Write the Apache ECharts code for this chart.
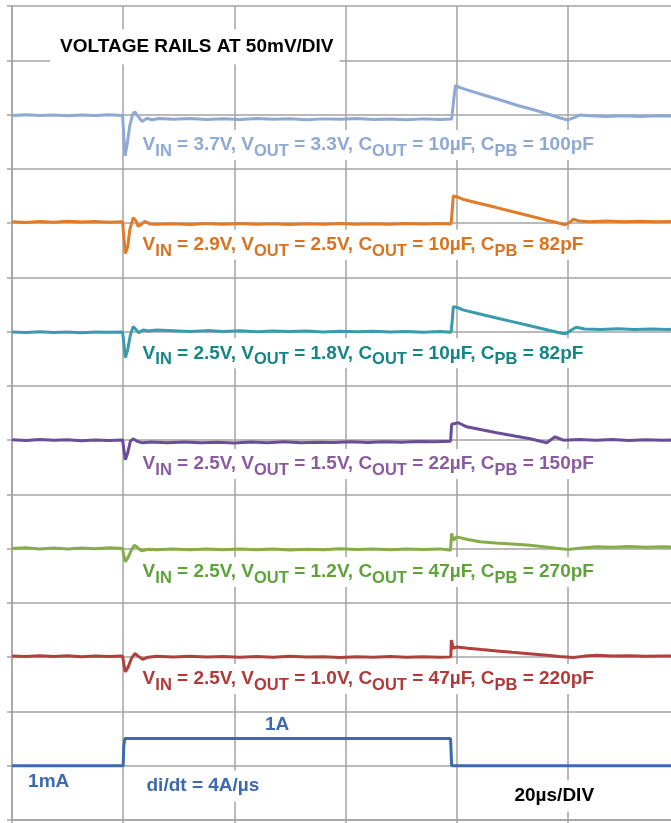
<!DOCTYPE html>
<html><head><meta charset="utf-8">
<script src="https://cdn.jsdelivr.net/npm/echarts@6/dist/echarts.min.js"></script>
<style>html,body{margin:0;padding:0;background:#fff}#c{width:671px;height:823px}</style>
</head><body><div id="c"></div>
<script>
// ---- scales ----
const mvPerDiv = 50;      // voltage rails at 50mV/DIV
const ampPerDiv = 2;      // load current: 1A = half a division
const usPerDiv = 20;      // 20µs/DIV
const timeMax = 120;      // µs across the visible grid
const divCount = 15;

// ---- rails: [time µs, deviation mV] ----
const railLevels = [13, 11, 9, 7, 5, 3];
const vinLabels  = ['3.7V', '2.9V', '2.5V', '2.5V', '2.5V', '2.5V'];
const voutLabels = ['3.3V', '2.5V', '1.8V', '1.5V', '1.2V', '1.0V'];
const coutLabels = ['10µF', '10µF', '10µF', '22µF', '47µF', '47µF'];
const cpbLabels  = ['100pF', '82pF', '82pF', '150pF', '270pF', '220pF'];
const traceColors = ['#8ea9d4', '#e07b2a', '#3a9aae', '#6a4d96', '#86ad47', '#b0403d'];
const labelColors = ['#8ea9d4', '#d9731f', '#168585', '#8b5b9f', '#5ea23a', '#b03a3a'];
const currentColor = '#3d6aae';

const rail33 = [[0,-0.8],[2.5,-0.2],[5,-1.0],[7.5,-0.4],[10,-1.2],[12.5,-0.5],[15,-0.9],[17.5,-0.3],[19.9,-0.9],
  [20.1,-20],[20.35,-38],[20.7,-28],[21.2,-10],[21.7,0],[22.1,2.5],[22.6,-1],[23.4,-6.5],[24.3,-3.5],[25.2,-4.8],[26.5,-3.6],
  [29,-4.4],[32,-3.7],[35,-4.6],[38,-3.9],[41,-4.5],[44,-3.6],[47,-4.3],[50,-3.8],[53,-4.7],[56,-4.0],[59,-4.4],[62,-3.7],[65,-4.6],[68,-4.1],[71,-4.8],[74,-4.0],[77,-4.6],[79.1,-4.2],
  [79.5,15],[79.8,27],[80.5,25],[82,22.5],[85,17.8],[88,13.2],[91,8.3],[94,4.2],[96.8,-0.2],[98.5,-3],[100,-5],[101,-3],[102.2,-0.5],[104,-1.2],[107,-1.8],[110,-1.1],[113,-1.7],[116,-1.2],[120,-1.5]];

const rail25 = [[0,1.2],[2.5,0.6],[5,1.5],[7.5,0.8],[10,1.6],[12.5,0.9],[15,1.4],[17.5,0.7],[19.9,1.2],
  [20.1,-12],[20.4,-28],[20.8,-22],[21.2,-6],[21.8,5],[22.3,2],[22.7,-3],[23.3,-1],[23.9,1.5],[24.8,-0.8],[26,-1.2],
  [29,-0.6],[32,-1.3],[35,-0.5],[38,-1.1],[41,-0.4],[44,-1.2],[47,-0.7],[50,-1.4],[53,-0.6],[56,-1.0],[59,-0.3],[62,-1.1],[65,-0.6],[68,-1.2],[71,-0.5],[74,-0.9],[77,-0.4],[79.0,-0.8],
  [79.2,12],[79.4,25],[80.2,24],[81.1,22],[84,18.3],[87,14.5],[90,10.6],[93.2,6.5],[96,2.9],[98,0.5],[99.5,-1.5],[100.3,0.5],[101,3.7],[102,2],[104,1.2],[107,1.8],[110,1.1],[113,1.7],[116,1.2],[120,1.5]];

const rail18 = [[0,-0.3],[2.5,-0.9],[5,-0.2],[7.5,-0.8],[10,-0.4],[12.5,-1.0],[15,-0.3],[17.5,-0.7],[19.9,-0.4],
  [20.1,-10],[20.4,-24],[20.8,-17],[21.3,-3],[21.8,4.6],[22.3,2],[22.8,-1],[23.6,1.5],[24.5,0.5],[26,1.5],
  [29,0.8],[32,0.1],[35,0.9],[38,0.2],[41,0.7],[44,-0.1],[47,0.6],[50,0],[53,0.5],[56,-0.3],[59,0.4],[62,-0.2],[65,0.3],[68,-0.4],[71,0.2],[74,-0.5],[77,0],[79.0,-0.5],
  [79.2,10],[79.4,23],[80.2,22],[81.1,20],[84,16.4],[87,12.8],[90,9.2],[93,5.6],[96,2],[98.9,-1.5],[99.7,-2],[100.5,1],[101.5,4],[103,2.4],[106,2.0],[109,2.6],[112,1.9],[115,2.5],[118,2.0],[120,2.2]];

const rail15 = [[0,0.3],[2.5,-0.4],[5,0.5],[7.5,-0.2],[10,0.4],[12.5,-0.5],[15,0.2],[17.5,-0.3],[19.9,0.2],
  [20.1,-8],[20.4,-18],[20.8,-12],[21.3,-1],[21.8,1.2],[22.5,-1],[23.5,-2.5],[25,-1.8],
  [28,-2.4],[31,-1.7],[34,-2.5],[37,-1.9],[40,-2.6],[43,-1.8],[46,-2.3],[49,-1.6],[52,-2.4],[55,-1.9],[58,-2.2],[61,-1.5],[64,-2.1],[67,-1.4],[70,-1.9],[73,-1.2],[76,-1.6],[78.9,-1.0],
  [79.1,14.6],[80.3,16],[81.8,12.3],[84.5,9.5],[87.2,6.8],[90.2,4],[93.2,1.3],[96.2,-2.4],[97.7,3.1],[99.2,0],[102,0.6],[105,-0.2],[108,0.5],[111,-0.3],[114,0.4],[117,-0.2],[120,0.2]];

const rail12 = [[0,0.2],[2.5,0.8],[5,-0.3],[7.5,0.6],[10,-0.2],[12.5,0.7],[15,0],[17.5,0.9],[19.9,0.1],
  [20.1,-6],[20.4,-12],[20.9,-8],[21.5,-1],[22,3.2],[22.6,1],[23.3,-2],[24.5,-0.5],[26,-1],
  [29,-0.3],[32,-1.1],[35,-0.4],[38,-1.0],[41,-0.2],[44,-0.9],[47,-0.3],[50,-1.2],[53,-0.5],[56,-0.9],[59,-0.1],[62,-0.8],[65,-0.3],[68,-1.0],[71,-0.4],[74,-0.8],[77,-0.2],[78.9,-1.4],
  [79.1,14],[79.4,7.8],[80.0,10.9],[82,8.5],[84.2,6.3],[87,5.2],[90,4.3],[93.2,3.2],[96,1.6],[98,0.3],[100.1,-0.7],[102.5,0.6],[105.2,1.7],[108,1.2],[111,1.9],[114,1.3],[117,1.8],[120,1.5]];

const rail10 = [[0,1.2],[2.5,0.6],[5,1.4],[7.5,0.7],[10,1.3],[12.5,0.5],[15,1.1],[17.5,0.6],[19.9,1.0],
  [20.1,-6],[20.4,-13.5],[20.9,-9],[21.5,-1],[22.1,3.4],[22.7,1],[23.5,-2],[24.5,0],[26,0.8],
  [29,0.2],[32,0.9],[35,0.1],[38,0.7],[41,-0.1],[44,0.6],[47,0],[50,0.8],[53,0.1],[56,0.5],[59,-0.2],[62,0.4],[65,-0.1],[68,0.6],[71,0],[74,0.5],[77,-0.1],[78.95,0.3],
  [79.04,15.7],[79.4,8],[80.0,9.5],[82,8.3],[84.5,7],[87.2,5.8],[90,4.5],[93,3.2],[96.2,1.8],[98.5,0.7],[101,-0.3],[103,1],[105.2,1.8],[108,1.1],[111,1.4],[114,0.8],[117,1.2],[120,0.9]];

const railData = [rail33, rail25, rail18, rail15, rail12, rail10];

// ---- load current: [time µs, amps] ----
const currentLevel = 1;
const loadCurrent = [[0,0.001],[20.0,0.001],[20.1,0.7],[20.3,1.0],[30,1.0],[40,1.0],[50,1.0],[60,1.0],[70,1.0],[78.9,1.0],[79.1,0.001],[90,0.001],[100,0.001],[110,0.001],[120,0.001]];

const FONT = '"Liberation Sans", Arial, Helvetica, sans-serif';
const gridColor = '#a3a3a3';

const series = railData.map((d, i) => ({
  type: 'line', showSymbol: false, symbol: 'none', silent: true,
  lineStyle: { width: 3, color: traceColors[i] },
  data: d.map(p => [p[0], railLevels[i] + p[1] / mvPerDiv])
}));
series.push({
  type: 'line', showSymbol: false, symbol: 'none', silent: true,
  lineStyle: { width: 3, color: currentColor },
  data: loadCurrent.map(p => [p[0], currentLevel + p[1] / ampPerDiv])
});

const axisStyle = { color: gridColor, width: 1.5 };
const option = {
  animation: false,
  backgroundColor: '#fff',
  grid: { left: 12, top: 6, width: 667, height: 814, containLabel: false, outerBoundsMode: 'none' },
  xAxis: {
    type: 'value', min: 0, max: timeMax, interval: usPerDiv,
    axisLine: { show: true, lineStyle: axisStyle },
    axisTick: { show: true, inside: false, length: 4, lineStyle: axisStyle },
    axisLabel: { show: false },
    splitLine: { show: true, lineStyle: axisStyle }
  },
  yAxis: {
    type: 'value', min: 0, max: divCount, interval: 1,
    axisLine: { show: true, lineStyle: axisStyle },
    axisTick: { show: true, inside: false, length: 5, lineStyle: axisStyle },
    axisLabel: { show: false },
    splitLine: { show: true, lineStyle: axisStyle }
  },
  series: series
};

const chart = echarts.init(document.getElementById('c'));
chart.setOption(option);

const toPx = (t, y) => chart.convertToPixel({ xAxisIndex: 0, yAxisIndex: 0 }, [t, y]);
const mainFont = (c) => ({ font: 'bold 19px ' + FONT, fill: c });
const subFont = (c) => ({ font: 'bold 16.5px ' + FONT, fill: c, padding: [13, 0, 0, 0] });

const labelT = 23.5;
const labelOffsets = [0.56, 0.40, 0.40, 0.44, 0.43, 0.40];
const graphics = [];
railLevels.forEach((lvl, i) => {
  const p = toPx(labelT, lvl - labelOffsets[i]);
  const text = '{m|V}{s|IN}{m| = ' + vinLabels[i] + ', V}{s|OUT}{m| = ' + voutLabels[i] +
    ', C}{s|OUT}{m| = ' + coutLabels[i] + ', C}{s|PB}{m| = ' + cpbLabels[i] + '}';
  graphics.push({
    type: 'text', z: 100,
    style: {
      x: p[0] - 6, y: p[1], text: text,
      align: 'left', verticalAlign: 'middle',
      font: 'bold 19px ' + FONT, fill: labelColors[i],
      backgroundColor: '#fff', padding: [0, 6, 0, 6],
      rich: { m: mainFont(labelColors[i]), s: subFont(labelColors[i]) }
    }
  });
});

function plain(txt, t, y, color, pad) {
  const p = toPx(t, y);
  graphics.push({
    type: 'text', z: 100,
    style: {
      x: p[0] - pad[3], y: p[1], text: txt, align: 'left', verticalAlign: 'middle',
      font: 'bold 19px ' + FONT, fill: color, backgroundColor: '#fff', padding: pad
    }
  });
}
plain('VOLTAGE RAILS AT 50mV/DIV', 8.65, 14.25, '#000', [8, 6, 8, 10]);
plain('1A', 45.5, 1.75, currentColor, [2, 4, 2, 4]);
plain('1mA', 2.9, 0.705, currentColor, [4, 6, 4, 6]);
plain('di/dt = 4A/µs', 24.2, 0.626, currentColor, [6, 8, 6, 8]);
plain('20µs/DIV', 90.4, 0.44, '#000', [6, 8, 6, 8]);

chart.setOption({ graphic: { elements: graphics } });
</script>
</body></html>
